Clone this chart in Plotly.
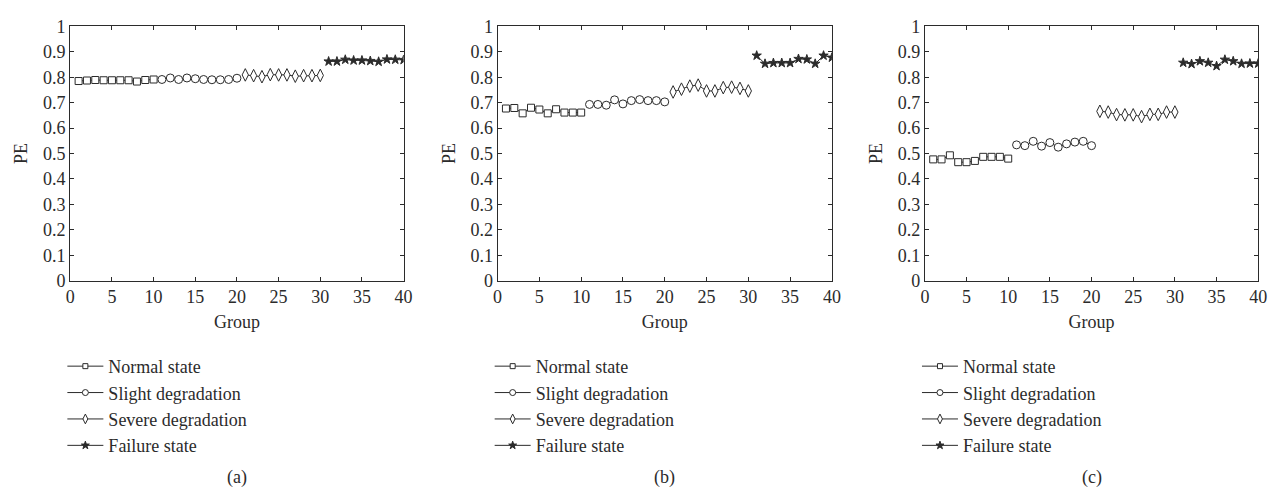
import plotly.graph_objects as go

groups_normal = list(range(1, 11))
groups_slight = list(range(11, 21))
groups_severe = list(range(21, 31))
groups_failure = list(range(31, 41))

series_names = ["Normal state", "Slight degradation", "Severe degradation", "Failure state"]

# Panel (a)
a_normal = [0.785, 0.787, 0.789, 0.788, 0.788, 0.788, 0.788, 0.783, 0.789, 0.791]
a_slight = [0.791, 0.797, 0.791, 0.797, 0.794, 0.791, 0.790, 0.790, 0.791, 0.796]
a_severe = [0.809, 0.806, 0.802, 0.810, 0.809, 0.809, 0.804, 0.806, 0.806, 0.807]
a_failure = [0.862, 0.862, 0.869, 0.866, 0.866, 0.864, 0.861, 0.870, 0.869, 0.868]

# Panel (b)
b_normal = [0.677, 0.679, 0.658, 0.680, 0.673, 0.658, 0.674, 0.661, 0.661, 0.661]
b_slight = [0.693, 0.693, 0.690, 0.711, 0.695, 0.708, 0.712, 0.708, 0.708, 0.703]
b_severe = [0.742, 0.753, 0.765, 0.769, 0.746, 0.746, 0.759, 0.761, 0.756, 0.746]
b_failure = [0.885, 0.853, 0.856, 0.856, 0.856, 0.872, 0.870, 0.853, 0.885, 0.877]

# Panel (c)
c_normal = [0.477, 0.477, 0.493, 0.466, 0.466, 0.471, 0.487, 0.487, 0.487, 0.480]
c_slight = [0.534, 0.531, 0.548, 0.529, 0.543, 0.525, 0.538, 0.545, 0.548, 0.531]
c_severe = [0.666, 0.663, 0.653, 0.652, 0.652, 0.645, 0.654, 0.654, 0.663, 0.663]
c_failure = [0.857, 0.852, 0.863, 0.857, 0.844, 0.869, 0.863, 0.853, 0.854, 0.854]

panel_labels = ["(a)", "(b)", "(c)"]
x_ticks = [0, 5, 10, 15, 20, 25, 30, 35, 40]
y_ticks = [0, 0.1, 0.2, 0.3, 0.4, 0.5, 0.6, 0.7, 0.8, 0.9, 1]
y_ticktext = ["0", "0.1", "0.2", "0.3", "0.4", "0.5", "0.6", "0.7", "0.8", "0.9", "1"]

FONT = "Liberation Serif"
FS = 18
INK = "#2b2b2b"
W, H = 1287, 501

panels = [
    (a_normal, a_slight, a_severe, a_failure),
    (b_normal, b_slight, b_severe, b_failure),
    (c_normal, c_slight, c_severe, c_failure),
]
group_x = [groups_normal, groups_slight, groups_severe, groups_failure]
symbols = ["square", "circle", "diamond-tall", "star"]
plot_sizes = [7, 8, 9, 7]
legend_sizes = [5, 6, 7, 6]
fills = ["white", "white", "white", INK]

# pixel geometry of the plot areas
x_px = [(66, 403), (498, 836), (930, 1267)]
y_top, y_bot = 17, 282

fig = go.Figure()
legend_names = ["legend", "legend2", "legend3"]

for p, data in enumerate(panels):
    xa = "x" if p == 0 else f"x{p+1}"
    ya = "y" if p == 0 else f"y{p+1}"
    for s in range(4):
        fig.add_trace(go.Scatter(
            x=group_x[s], y=data[s], mode="lines+markers",
            line=dict(color=INK, width=1),
            marker=dict(symbol=symbols[s], size=plot_sizes[s], color=fills[s],
                        line=dict(color=INK, width=1)),
            xaxis=xa, yaxis=ya, showlegend=False, name=series_names[s],
        ))
    for s in range(4):
        fig.add_trace(go.Scatter(
            x=[None], y=[None], mode="lines+markers",
            line=dict(color=INK, width=1),
            marker=dict(symbol=symbols[s], size=legend_sizes[s], color=fills[s],
                        line=dict(color=INK, width=1)),
            xaxis=xa, yaxis=ya, showlegend=True, name=series_names[s],
            legend=legend_names[p], legendgroup=f"p{p}s{s}",
        ))

axis_common = dict(
    showline=True, linecolor=INK, linewidth=1.2, mirror="allticks",
    ticks="inside", ticklen=4, tickwidth=1, tickcolor=INK,
    showgrid=False, zeroline=False,
    tickfont=dict(family=FONT, size=FS, color=INK),
)

layout = dict(
    width=W, height=H, margin=dict(l=0, r=0, t=0, b=0),
    paper_bgcolor="white", plot_bgcolor="white",
    font=dict(family=FONT, size=FS, color=INK),
)

for p in range(3):
    sx = "" if p == 0 else str(p + 1)
    x0, x1 = x_px[p]
    layout[f"xaxis{sx}"] = dict(
        axis_common, domain=[x0 / W, x1 / W], range=[0, 40],
        tickvals=x_ticks, anchor=f"y{sx}",
        title=dict(text="Group", font=dict(family=FONT, size=FS, color=INK), standoff=8),
    )
    layout[f"yaxis{sx}"] = dict(
        axis_common, domain=[1 - y_bot / H, 1 - y_top / H], range=[0, 1],
        tickvals=y_ticks, ticktext=y_ticktext, anchor=f"x{sx}",
        title=dict(text="PE", font=dict(family=FONT, size=FS, color=INK), standoff=10),
    )
    legend_key = legend_names[p]
    layout[legend_key] = dict(
        x=(x0 - 8) / W, xanchor="left", y=1 - 352 / H, yanchor="top",
        bgcolor="rgba(0,0,0,0)", font=dict(family=FONT, size=FS, color=INK),
        tracegroupgap=4, traceorder="normal", itemwidth=36,
    )

fig.update_layout(**layout)

for p in range(3):
    x0, x1 = x_px[p]
    fig.add_annotation(
        text=panel_labels[p], xref="paper", yref="paper",
        x=((x0 + x1) / 2) / W, y=1 - 487 / H, showarrow=False,
        font=dict(family=FONT, size=FS, color=INK), xanchor="center", yanchor="middle",
    )

fig.write_html("out.html", config={"displayModeBar": False},
               post_script="document.body.style.margin='0';document.body.style.overflow='hidden';")
